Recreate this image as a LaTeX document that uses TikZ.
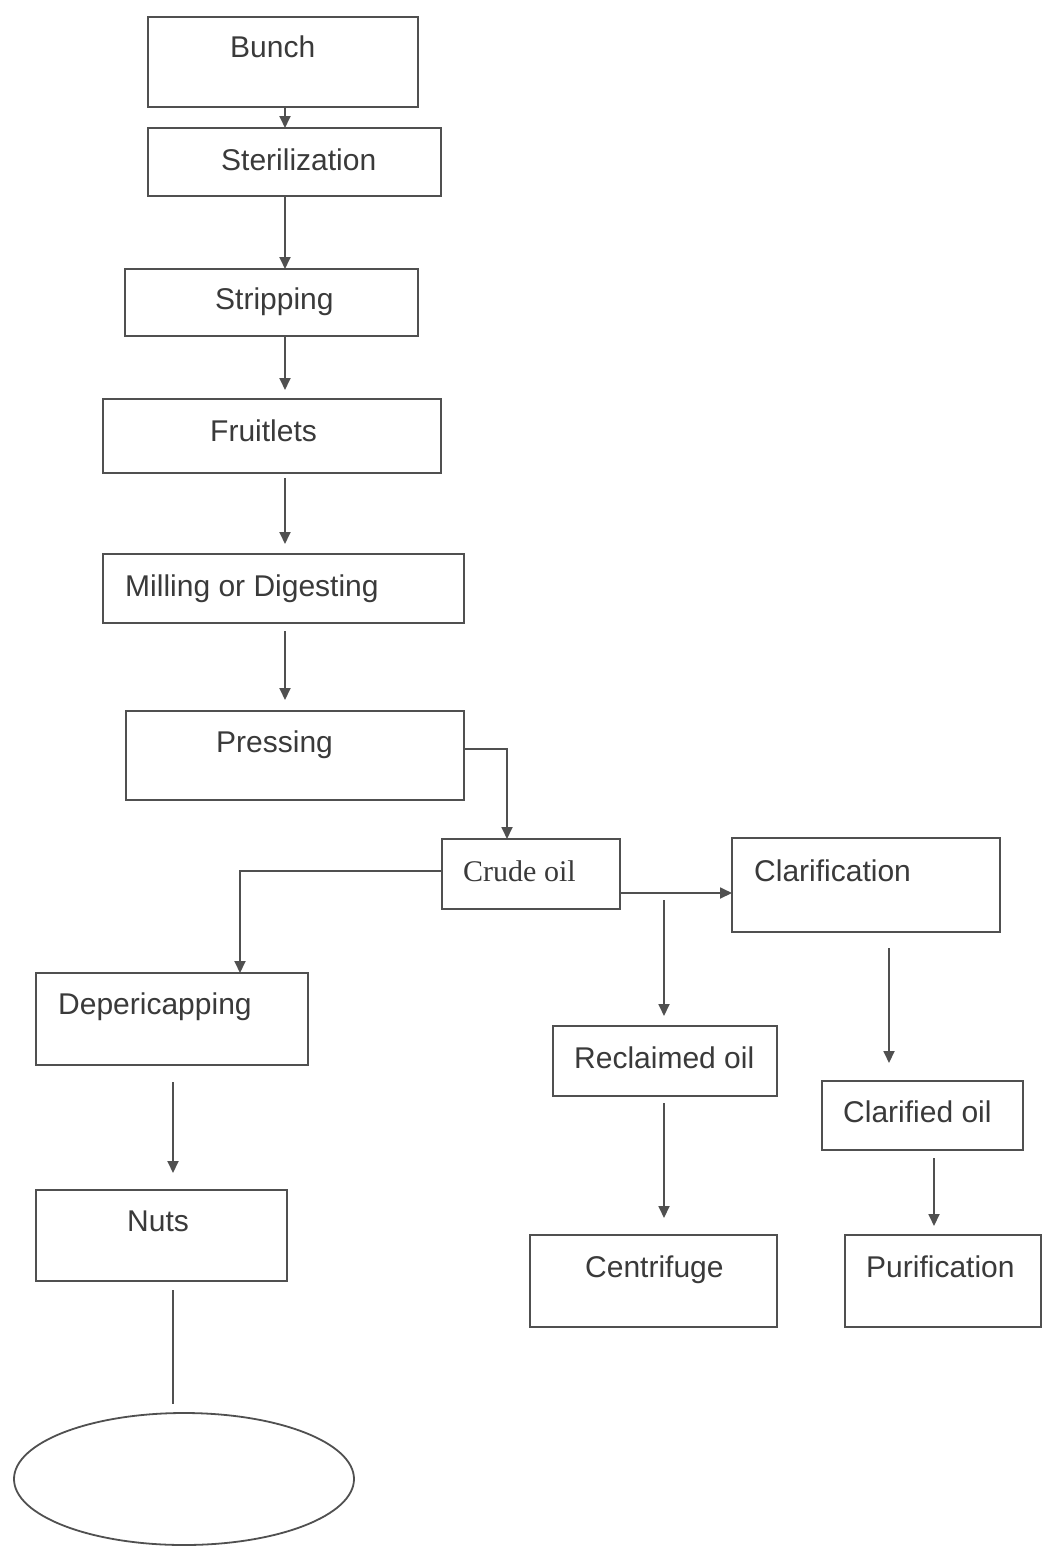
\documentclass[tikz,border=0pt]{standalone}
\usepackage{fontspec}
\setmainfont{Liberation Sans}
\newfontfamily\serifcrude{Liberation Serif}
\usetikzlibrary{arrows.meta,calc,shapes.geometric}
\definecolor{lin}{HTML}{505050}
\definecolor{txt}{HTML}{3A3A3A}
\tikzset{
  box/.style={draw=lin, line width=1.8pt, rectangle, inner sep=0pt, outer sep=0pt, anchor=north west},
  lbl/.style={anchor=base west, inner sep=0pt, text=txt, font=\fontsize{30}{35}\selectfont},
  arr/.style={draw=lin, line width=1.8pt, -{Triangle[length=12pt,width=11pt]}},
  ln/.style={draw=lin, line width=1.8pt}
}
\begin{document}
\begin{tikzpicture}[x=1pt,y=-1pt]
\useasboundingbox (0,0) rectangle (1043,1547);
\fill[white] (0,0) rectangle (1043,1547);
% boxes
\node[box, minimum width=270, minimum height=90] (bunch) at (148,17) {};
\node[box, minimum width=293, minimum height=68] (steril) at (148,128) {};
\node[box, minimum width=293, minimum height=67] (strip) at (125,269) {};
\node[box, minimum width=338, minimum height=74] (fruit) at (103,399) {};
\node[box, minimum width=361, minimum height=69] (mill) at (103,554) {};
\node[box, minimum width=338, minimum height=89] (press) at (126,711) {};
\node[box, minimum width=178, minimum height=70] (crude) at (442,839) {};
\node[box, minimum width=268, minimum height=94] (clar) at (732,838) {};
\node[box, minimum width=272, minimum height=92] (deperi) at (36,973) {};
\node[box, minimum width=224, minimum height=70] (reclaim) at (553,1026) {};
\node[box, minimum width=201, minimum height=69] (clarified) at (822,1081) {};
\node[box, minimum width=251, minimum height=91] (nuts) at (36,1190) {};
\node[box, minimum width=247, minimum height=92] (centri) at (530,1235) {};
\node[box, minimum width=196, minimum height=92] (purif) at (845,1235) {};
\node[draw=lin, line width=1.8pt, ellipse, inner sep=0pt, minimum width=340, minimum height=132] (oval) at (184,1479) {};
% labels
\node[lbl] (tbunch) at (230,57) {Bunch};
\node[lbl] (tsteril) at (221,170) {Sterilization};
\node[lbl] (tstrip) at (215,309) {Stripping};
\node[lbl] (tfruit) at (210,441) {Fruitlets};
\node[lbl] (tmill) at (125,596) {Milling or Digesting};
\node[lbl] (tpress) at (216,752) {Pressing};
\node[lbl, font=\serifcrude\fontsize{30}{35}\selectfont] (tcrude) at (463,881) {Crude oil};
\node[lbl] (tclar) at (754,881) {Clarification};
\node[lbl] (tdeperi) at (58,1014) {Depericapping};
\node[lbl] (treclaim) at (574,1068) {Reclaimed oil};
\node[lbl] (tclarified) at (843,1122) {Clarified oil};
\node[lbl] (tnuts) at (127,1231) {Nuts};
\node[lbl] (tcentri) at (585,1277) {Centrifuge};
\node[lbl] (tpurif) at (866,1277) {Purification};
% axis coordinates
\coordinate (m) at (285,0);
\coordinate (pv) at (507,0);
\coordinate (dv) at (240,0);
\coordinate (rv) at (664,0);
\coordinate (cv) at (889,0);
\coordinate (nv) at (173,0);
\coordinate (qv) at (934,0);
\coordinate (ch) at (0,893);
\coordinate (ph) at (0,749);
\coordinate (dh) at (0,871);
% connectors
\draw[arr] (bunch.south -| m) -- (steril.north -| m);
\draw[arr] (steril.south -| m) -- (strip.north -| m);
\draw[arr] (strip.south -| m) -- ($(fruit.north -| m)+(0,-9)$);
\draw[arr] ($(fruit.south -| m)+(0,5)$) -- ($(mill.north -| m)+(0,-10)$);
\draw[arr] ($(mill.south -| m)+(0,8)$) -- ($(press.north -| m)+(0,-11)$);
\draw[arr] (press.east |- ph) -| (crude.north -| pv);
\draw[arr] (crude.west |- dh) -| (deperi.north -| dv);
\draw[arr] (crude.east |- ch) -- (clar.west |- ch);
\draw[arr] ($(crude.south -| rv)+(0,-9)$) -- ($(reclaim.north -| rv)+(0,-10)$);
\draw[arr] ($(clar.south -| cv)+(0,16)$) -- ($(clarified.north -| cv)+(0,-18)$);
\draw[arr] ($(deperi.south -| nv)+(0,17)$) -- ($(nuts.north -| nv)+(0,-17)$);
\draw[arr] ($(reclaim.south -| rv)+(0,7)$) -- ($(centri.north -| rv)+(0,-17)$);
\draw[arr] ($(clarified.south -| qv)+(0,8)$) -- ($(purif.north -| qv)+(0,-9)$);
\draw[ln] ($(nuts.south -| nv)+(0,9)$) -- ($(oval.north -| nv)+(0,-8)$);
\end{tikzpicture}
\end{document}
